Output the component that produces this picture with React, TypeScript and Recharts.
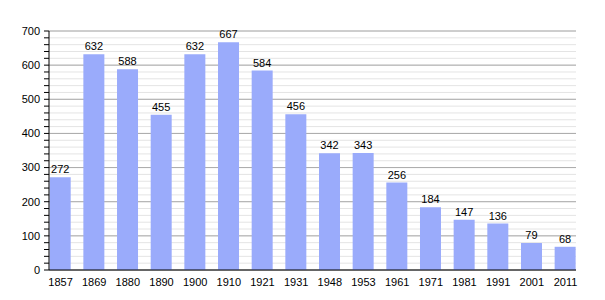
import { Bar, BarChart, CartesianGrid, LabelList, XAxis, YAxis } from 'recharts';

const years = ['1857', '1869', '1880', '1890', '1900', '1910', '1921', '1931', '1948', '1953', '1961', '1971', '1981', '1991', '2001', '2011'];
const population = [272, 632, 588, 455, 632, 667, 584, 456, 342, 343, 256, 184, 147, 136, 79, 68];
const majorTicks = [0, 100, 200, 300, 400, 500, 600, 700];
const minorTicks = [
  0, 20, 40, 60, 80, 100, 120, 140, 160, 180, 200, 220, 240, 260, 280, 300, 320, 340,
  360, 380, 400, 420, 440, 460, 480, 500, 520, 540, 560, 580, 600, 620, 640, 660, 680, 700,
];

const data = years.map((year, i) => ({ year, value: population[i] }));

const font = '"Liberation Sans", Arial, sans-serif';

export default function App() {
  return (
    <div style={{ position: 'absolute', left: 0, top: 0, background: '#fff' }}>
      <BarChart
        width={605}
        height={300}
        data={data}
        margin={{ top: 31, right: 29, bottom: 0, left: 0 }}
        barSize={21}
        style={{ fontFamily: font }}
      >
        <CartesianGrid vertical={false} horizontalValues={minorTicks} stroke="#e4e4e4" />
        <CartesianGrid vertical={false} horizontalValues={majorTicks} stroke="#aaaaaa" />
        <XAxis
          dataKey="year"
          height={30}
          padding={{ left: -5.3, right: -6.3 }}
          tickLine={false}
          axisLine={{ stroke: '#000' }}
          tick={{ fontSize: 11, fill: '#000' }}
          tickMargin={2}
          interval={0}
        />
        <YAxis
          width={49}
          domain={[0, 700]}
          ticks={minorTicks}
          interval={0}
          tickSize={5}
          tickMargin={4}
          tickLine={{ stroke: '#000' }}
          axisLine={{ stroke: '#000' }}
          tick={{ fontSize: 11, fill: '#000' }}
          tickFormatter={(v: number) => (v % 100 === 0 ? String(v) : '')}
        />
        <Bar dataKey="value" fill="#9aabfb" isAnimationActive={false}>
          <LabelList dataKey="value" position="top" offset={4} style={{ fontSize: 11, fill: '#000' }} />
        </Bar>
      </BarChart>
    </div>
  );
}
